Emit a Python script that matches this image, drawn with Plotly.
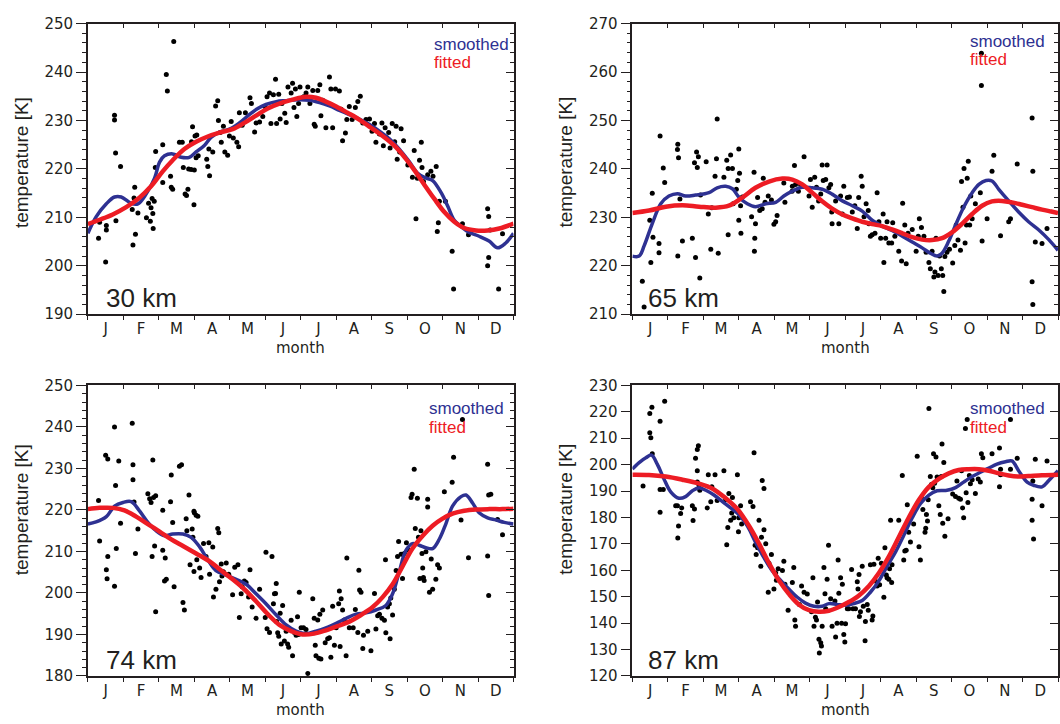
import plotly.graph_objects as go

# ---------------- data ----------------
month_labels = ["J", "F", "M", "A", "M", "J", "J", "A", "S", "O", "N", "D"]
altitudes = ["30 km", "65 km", "74 km", "87 km"]
y_ranges = [[190, 250], [210, 270], [180, 250], [120, 230]]

# 30 km
pts_x_30 = [0.30,0.50,0.52,0.52,0.75,0.75,0.78,0.79,0.92,0.33,
            1.25,1.30,1.32,1.27,1.34,1.41,1.65,1.71,1.76,1.78,1.81,1.83,1.84,1.87,1.90,1.91,
            2.11,2.11,2.21,2.24,2.33,2.35,2.39,2.42,2.58,2.66,2.69,2.74,2.78,2.82,2.84,2.91,2.92,2.95,2.99,3.00,
            3.02,3.05,3.07,3.11,3.35,3.38,3.43,3.41,3.52,3.60,3.66,3.68,3.73,3.76,3.82,3.86,3.94,3.99,
            4.04,4.10,4.20,4.25,4.27,4.35,4.44,4.57,4.61,4.70,4.74,4.84,4.93,4.99,
            5.05,5.12,5.16,5.23,5.29,5.32,5.38,5.42,5.47,5.55,5.59,5.64,5.73,5.77,5.81,5.85,5.89,5.94,5.98,
            6.08,6.15,6.20,6.26,6.34,6.38,6.41,6.48,6.54,6.57,6.62,6.71,6.81,6.85,6.90,6.98,
            7.09,7.14,7.18,7.26,7.30,7.37,7.45,7.54,7.61,7.68,7.75,7.84,7.94,
            8.01,8.08,8.12,8.22,8.29,8.33,8.38,8.42,8.48,8.52,8.58,8.65,8.69,8.72,8.79,8.83,8.90,
            9.02,9.15,9.20,9.25,9.29,9.35,9.40,9.42,9.46,9.58,9.67,9.73,9.82,9.85,9.88,9.91,
            10.08,10.27,10.31,10.56,10.73,
            11.27,11.30,11.30,11.27,11.58,11.69,11.34]
pts_y_30 = [205.7,200.8,208.3,207.4,231.1,230.1,223.3,209.3,220.5,209.0,
            211.6,214.0,216.2,204.3,206.5,210.9,209.9,212.9,209.2,212.0,213.9,210.8,207.7,213.3,220.3,223.6,
            225.0,217.2,239.5,236.1,218.5,216.2,215.8,246.3,225.5,225.5,220.3,214.8,214.5,215.8,220.0,219.9,225.6,228.7,212.6,219.8,
            226.8,222.3,227.0,222.7,222.0,220.5,218.6,224.1,223.5,233.0,234.1,230.0,227.5,225.5,228.8,223.5,222.8,226.8,
            229.8,226.4,225.5,224.6,231.6,229.0,231.6,234.7,233.5,227.6,229.5,229.7,230.8,232.9,
            234.9,235.7,229.4,235.3,238.5,229.4,235.4,230.3,233.5,231.5,229.6,236.9,235.7,237.7,232.7,236.5,230.8,233.5,236.9,
            234.9,235.7,236.9,233.5,236.2,229.2,228.8,236.2,237.4,231.0,234.2,228.5,239.0,236.5,228.5,236.5,
            236.1,232.3,225.8,227.4,230.2,232.9,230.2,232.7,233.9,235.0,229.5,230.2,230.3,
            227.8,229.4,225.5,227.2,229.5,224.8,228.5,226.5,227.5,224.3,229.4,225.6,228.8,222.0,223.5,228.3,225.8,
            220.8,218.3,223.8,209.7,218.1,221.8,225.5,220.3,217.4,218.8,219.5,218.5,220.5,207.1,208.9,213.3,
            213.3,203.0,195.2,208.7,206.4,
            211.8,210.2,201.7,200.0,195.2,206.6,207.4]
smooth_x_30 = [0,0.23,0.52,0.75,0.94,1.22,1.41,1.64,1.88,2.02,2.16,2.39,2.63,2.86,3.05,3.29,3.47,3.71,3.99,
               4.27,4.55,4.79,5.02,5.31,5.59,5.92,6.24,6.53,6.81,7.09,7.37,7.65,7.93,8.22,8.50,8.78,9.06,
               9.30,9.54,9.72,9.96,10.14,10.33,10.52,10.75,11.03,11.31,11.55,11.78,12.0]
smooth_y_30 = [206.7,210.1,212.8,214.2,214.2,212.9,212.8,214.8,218.1,221.4,222.7,223.1,222.4,222.4,223.5,224.9,226.5,227.6,228.2,
               229.5,231.2,232.5,233.3,233.9,234.1,234.3,234.2,233.7,233.0,232.1,231.2,230.3,229.2,227.8,226.2,224.1,221.5,
               219.1,218.1,217.6,215.1,212.4,209.4,208.1,206.9,206.1,205.1,203.7,204.7,206.7]
fit_x_30 = [0,0.33,0.70,1.08,1.46,1.78,2.11,2.39,2.72,3.05,3.38,3.71,4.08,4.41,4.74,5.07,5.40,5.77,6.15,6.43,
            6.71,7.00,7.32,7.65,7.98,8.31,8.64,8.92,9.20,9.48,9.77,10.05,10.33,10.61,10.94,11.27,11.60,12.0]
fit_y_30 = [208.6,209.5,210.6,212.1,214.1,216.4,219.5,221.8,224.1,225.6,226.7,227.5,228.2,229.5,231.0,232.5,233.5,234.3,234.9,234.7,
            233.9,232.9,231.6,230.2,228.5,226.8,224.8,222.5,219.8,216.8,213.8,211.1,209.1,207.8,207.3,207.3,207.7,208.7]

# 65 km
pts_x_65 = [0.28,0.33,0.49,0.52,0.56,0.58,0.75,0.75,0.78,0.87,0.91,
            1.27,1.28,1.30,1.28,1.34,1.41,1.69,1.75,1.78,1.81,1.83,1.86,1.90,1.92,
            2.08,2.14,2.21,2.24,2.33,2.37,2.39,2.42,2.58,2.66,2.70,2.70,2.77,2.82,2.84,2.93,2.97,3.00,
            3.00,3.02,3.06,3.05,3.10,3.36,3.43,3.44,3.45,3.47,3.53,3.59,3.66,3.69,3.74,3.83,3.92,3.99,4.04,4.08,
            4.27,4.30,4.50,4.51,4.57,4.60,4.68,4.74,4.84,4.98,
            5.02,5.07,5.14,5.19,5.25,5.31,5.35,5.38,5.45,5.49,5.54,5.59,5.62,5.63,5.73,5.82,5.87,5.92,5.96,
            6.06,6.12,6.20,6.27,6.34,6.38,6.45,6.48,6.53,6.59,6.65,6.67,6.71,6.76,6.84,6.90,6.95,
            7.00,7.07,7.09,7.14,7.18,7.23,7.31,7.34,7.40,7.51,7.59,7.62,7.68,7.72,7.77,7.89,
            8.00,8.06,8.09,8.15,8.22,8.28,8.36,8.40,8.45,8.50,8.53,8.56,8.62,8.66,8.71,8.75,8.78,8.81,8.87,8.94,
            9.03,9.09,9.13,9.18,9.25,9.28,9.32,9.35,9.38,9.42,9.44,9.47,9.51,9.54,9.58,9.67,9.81,9.84,9.84,9.86,10.00,
            10.14,10.19,10.38,10.61,10.66,10.85,
            11.27,11.29,11.27,11.29,11.36,11.55,11.69]
pts_y_65 = [216.8,211.5,229.4,220.7,235.0,225.9,224.6,222.7,246.8,240.2,237.2,
            244.0,245.1,242.3,222.0,233.8,225.1,225.7,241.3,221.7,243.5,240.3,242.5,217.5,234.6,
            241.5,230.7,223.4,232.0,238.5,242.1,250.3,222.6,238.3,241.8,226.4,240.1,242.9,240.1,232.8,235.8,237.6,244.1,
            229.4,239.1,226.7,232.4,234.2,230.1,239.3,223.0,225.7,228.7,234.1,231.4,231.8,238.1,233.1,234.4,233.6,228.6,229.1,230.4,
            237.1,233.1,235.4,236.4,240.7,236.8,235.4,236.8,242.5,234.4,
            237.8,232.1,238.3,236.2,233.4,234.8,240.8,237.6,237.8,240.8,236.1,236.8,231.1,228.7,233.4,228.7,234.4,230.7,236.4,
            234.1,234.2,231.1,232.4,227.7,234.1,238.5,236.4,230.1,232.8,231.4,228.7,226.1,226.4,226.7,235.1,229.1,
            225.7,230.7,220.7,225.7,229.1,224.7,224.7,228.9,226.1,223.0,221.0,232.9,228.4,220.4,226.7,227.5,
            223.0,226.1,229.7,227.9,226.1,222.8,220.7,219.4,223.0,217.7,218.7,225.7,218.0,222.0,219.4,218.0,214.7,221.9,222.8,223.4,
            220.6,224.2,228.4,225.3,223.2,237.4,232.1,240.1,224.7,228.4,238.1,241.6,228.4,234.4,229.7,232.8,235.1,257.2,263.9,225.1,229.7,
            239.5,242.8,226.2,229.1,229.7,241.0,
            250.5,239.5,216.7,212.0,224.9,224.6,227.7]
smooth_x_65 = [0,0.19,0.33,0.56,0.80,1.03,1.27,1.50,1.78,2.16,2.39,2.63,2.82,3.00,3.24,3.47,3.76,4.04,4.27,4.51,
               4.79,5.07,5.35,5.63,5.92,6.20,6.48,6.76,7.04,7.32,7.61,7.89,8.17,8.40,8.59,8.73,8.92,9.11,9.34,
               9.58,9.77,9.97,10.14,10.33,10.61,10.89,11.17,11.46,11.74,12.0]
smooth_y_65 = [222.0,222.0,224.1,228.7,232.8,234.4,234.9,234.4,234.6,235.1,236.1,236.4,235.9,234.2,232.8,232.2,232.8,233.1,234.4,235.4,
               236.2,236.1,235.8,234.8,233.4,232.4,231.3,229.4,228.2,227.3,226.1,224.9,223.7,222.6,222.0,222.6,225.1,228.4,232.1,
               235.1,236.8,237.6,237.5,235.8,233.4,231.1,229.1,227.4,225.4,223.2]
fit_x_65 = [0,0.47,0.94,1.41,1.88,2.35,2.72,3.10,3.47,3.85,4.23,4.51,4.79,5.07,5.35,5.63,5.92,6.20,6.48,6.76,
            7.04,7.32,7.61,7.89,8.17,8.45,8.73,9.01,9.30,9.58,9.86,10.14,10.42,10.70,10.99,11.27,11.55,11.81,12.0]
fit_y_65 = [230.9,231.4,232.2,232.5,232.2,232.0,232.4,234.1,236.1,237.4,238.0,237.8,236.8,235.1,233.3,231.8,230.6,229.8,229.1,228.6,
            228.2,227.5,226.7,225.9,225.4,225.3,225.7,226.9,228.7,230.7,232.4,233.3,233.4,233.1,232.6,232.1,231.6,231.2,230.9]

# 74 km
pts_x_74 = [0.30,0.33,0.50,0.54,0.52,0.56,0.56,0.75,0.75,0.78,0.80,0.87,0.92,
            1.25,1.27,1.27,1.30,1.34,1.41,1.69,1.74,1.78,1.81,1.83,1.85,1.88,1.91,1.91,
            2.11,2.11,2.16,2.18,2.21,2.33,2.35,2.39,2.43,2.58,2.64,2.68,2.72,2.77,2.79,2.85,2.88,2.94,2.96,2.99,2.99,
            3.00,3.05,3.07,3.10,3.15,3.19,3.26,3.33,3.41,3.43,3.52,3.54,3.60,3.61,3.66,3.69,3.71,3.76,3.78,3.82,3.90,3.97,
            4.08,4.14,4.23,4.27,4.32,4.35,4.41,4.46,4.53,4.57,4.63,4.74,4.84,5.00,
            5.02,5.05,5.12,5.19,5.23,5.26,5.31,5.29,5.32,5.35,5.38,5.42,5.45,5.49,5.54,5.59,5.63,5.66,5.73,5.77,5.82,5.87,5.91,5.94,5.96,6.01,
            6.08,6.15,6.20,6.34,6.38,6.41,6.43,6.48,6.51,6.54,6.57,6.62,6.69,6.76,6.81,6.85,6.90,6.95,7.00,
            7.07,7.09,7.11,7.14,7.18,7.23,7.28,7.30,7.37,7.48,7.54,7.61,7.64,7.66,7.70,7.75,7.77,7.89,7.98,
            8.08,8.12,8.17,8.22,8.29,8.36,8.39,8.40,8.45,8.50,8.52,8.54,8.59,8.64,8.69,8.73,8.76,8.83,8.87,8.92,8.98,
            9.04,9.11,9.14,9.20,9.23,9.29,9.32,9.36,9.39,9.42,9.44,9.46,9.48,9.53,9.58,9.58,9.63,9.68,9.72,9.81,9.86,9.91,
            10.05,10.27,10.31,10.52,10.56,10.73,
            11.27,11.27,11.30,11.30,11.36,11.55,11.69]
pts_y_74 = [222.3,212.5,233.2,203.4,205.6,208.8,232.3,240.0,201.6,225.9,210.7,231.8,216.8,
            240.9,230.9,227.3,221.9,209.5,215.4,223.9,222.7,221.8,208.8,232.0,223.0,211.3,223.4,195.5,
            219.9,210.3,202.9,208.4,203.3,222.0,228.4,217.0,201.5,230.5,230.9,197.7,195.9,217.9,215.0,223.6,206.8,215.4,213.4,205.2,219.7,
            219.3,218.7,208.0,218.5,206.0,203.7,211.9,208.8,212.1,204.5,211.1,199.0,206.0,200.9,215.5,214.5,202.7,207.0,204.1,205.1,207.2,204.5,
            199.6,206.2,206.8,194.1,199.8,201.5,202.9,202.5,199.0,205.6,196.6,193.9,200.9,194.1,
            209.8,191.4,190.5,208.8,197.4,199.8,202.3,199.9,193.1,190.4,189.6,195.1,187.7,197.0,188.4,190.8,187.7,186.9,193.4,184.9,190.5,189.8,194.3,190.0,200.2,191.6,
            191.6,191.2,180.6,198.6,193.9,187.4,184.9,193.5,184.3,194.9,184.1,195.9,188.0,189.0,189.2,184.5,196.8,187.4,191.6,
            197.4,200.5,187.1,198.6,195.9,193.5,184.9,208.4,191.6,191.6,196.0,190.5,205.5,200.7,200.2,186.6,189.8,190.8,186.1,
            199.9,191.3,194.5,194.9,193.9,193.4,208.0,190.4,196.6,197.4,189.0,198.8,194.7,200.9,205.4,208.8,212.4,209.3,203.5,209.5,212.1,
            210.3,223.0,223.8,229.8,215.5,222.8,213.4,203.5,215.0,209.5,206.0,203.7,203.0,209.9,220.7,222.6,200.2,208.2,200.9,203.3,206.8,206.0,
            224.4,226.7,232.7,217.6,241.8,208.5,
            231.0,208.9,199.4,223.6,223.8,217.7,214.0]
smooth_x_74 = [0,0.23,0.52,0.75,0.99,1.22,1.46,1.69,1.92,2.16,2.39,2.68,2.91,3.15,3.38,3.61,3.90,4.18,4.46,4.74,
               5.02,5.31,5.59,5.87,6.15,6.43,6.71,7.00,7.28,7.56,7.84,8.12,8.40,8.59,8.78,8.97,9.15,9.34,9.53,
               9.72,9.91,10.09,10.28,10.52,10.66,10.85,11.03,11.27,11.50,11.74,12.0]
smooth_y_74 = [216.6,217.1,218.4,220.9,221.8,222.0,219.7,217.0,215.0,213.8,214.2,214.2,213.4,211.1,208.0,205.4,204.3,203.3,202.1,199.8,
               197.4,194.7,192.3,190.8,190.2,190.8,191.6,192.7,193.9,194.9,195.2,195.9,197.0,199.8,205.2,210.3,211.9,211.5,210.9,
               210.7,213.0,216.6,220.9,223.2,223.6,221.6,219.3,218.1,217.6,217.0,216.6]
fit_x_74 = [0,0.33,0.70,1.03,1.36,1.69,2.02,2.35,2.68,3.05,3.43,3.76,4.08,4.41,4.74,5.07,5.40,5.73,6.05,6.38,
            6.71,7.04,7.37,7.70,8.03,8.31,8.59,8.87,9.15,9.44,9.72,10.00,10.28,10.61,10.94,11.31,11.69,12.0]
fit_y_74 = [220.2,220.5,220.5,219.9,218.4,216.6,214.8,212.9,211.3,209.5,207.6,205.4,203.3,200.9,198.0,194.9,192.3,190.8,190.0,190.2,
            191.0,192.0,193.1,194.7,196.6,199.0,202.1,206.4,210.7,213.8,216.2,217.9,219.1,219.8,220.1,220.2,220.2,220.3]

# 87 km
pts_x_87 = [0.30,0.49,0.49,0.52,0.55,0.56,0.78,0.78,0.78,0.87,0.91,
            1.22,1.27,1.30,1.28,1.36,1.39,1.69,1.71,1.75,1.78,1.83,1.86,1.83,1.83,1.88,1.90,
            2.11,2.14,2.21,2.24,2.33,2.39,2.58,2.63,2.66,2.69,2.72,2.77,2.80,2.82,2.86,2.96,2.99,3.00,
            3.05,3.08,3.33,3.40,3.43,3.46,3.49,3.53,3.57,3.62,3.64,3.66,3.71,3.71,3.76,3.83,3.85,3.92,3.99,
            4.04,4.06,4.11,4.23,4.27,4.30,4.39,4.51,4.55,4.58,4.60,4.71,4.77,4.84,4.93,
            5.05,5.09,5.12,5.16,5.19,5.22,5.26,5.27,5.31,5.33,5.35,5.40,5.43,5.45,5.49,5.53,5.59,5.63,5.71,5.73,5.77,5.80,5.82,5.87,5.90,5.92,5.96,5.99,
            6.01,6.06,6.10,6.18,6.22,6.29,6.34,6.36,6.39,6.40,6.43,6.48,6.51,6.56,6.57,6.62,6.65,6.71,6.76,6.78,6.81,6.85,6.90,6.93,6.97,
            7.02,7.09,7.12,7.16,7.18,7.23,7.25,7.28,7.31,7.32,7.51,7.61,7.65,7.68,7.72,7.75,7.79,7.84,7.93,
            8.03,8.08,8.12,8.15,8.19,8.25,8.27,8.29,8.32,8.34,8.36,8.40,8.43,8.47,8.49,8.52,8.56,8.59,8.64,8.68,8.71,8.73,8.75,8.78,8.81,8.90,
            9.03,9.11,9.15,9.20,9.25,9.28,9.31,9.34,9.39,9.41,9.44,9.46,9.50,9.53,9.58,9.67,9.75,9.81,9.84,9.88,
            10.14,10.35,10.35,10.38,10.38,10.66,10.66,10.85,
            11.27,11.27,11.29,11.31,11.36,11.55,11.69]
pts_y_87 = [191.9,219.4,212.1,210.2,221.7,204.1,216.4,182.0,190.6,190.6,224.0,
            184.4,184.4,176.8,172.2,181.5,183.6,184.4,178.9,183.2,202.4,205.7,207.2,197.7,193.4,192.2,190.3,
            183.6,196.2,186.0,191.6,196.2,186.4,197.7,186.7,169.7,176.2,189.1,179.0,181.7,187.6,179.9,196.2,174.6,179.9,
            184.4,177.5,186.0,184.2,204.5,169.5,166.0,168.5,179.0,161.5,172.5,194.0,191.0,175.4,170.1,151.7,162.7,166.0,152.9,
            159.0,156.2,160.6,159.9,163.4,154.7,144.9,155.4,161.1,141.2,138.8,147.1,154.1,151.7,151.0,
            144.3,157.2,138.8,142.2,141.2,148.0,133.9,128.7,132.6,131.4,138.8,161.1,151.1,145.5,156.6,169.5,149.2,138.8,148.4,134.8,140.0,163.9,151.3,157.2,140.0,154.7,135.7,132.9,
            139.8,145.5,145.5,160.3,145.5,145.5,155.7,152.9,158.4,142.5,144.3,161.5,146.4,133.3,140.6,147.1,144.9,162.1,141.2,142.7,162.3,156.0,154.1,164.6,154.5,
            162.7,149.8,168.5,158.2,157.2,156.6,160.6,179.0,155.4,162.1,179.0,195.9,163.9,167.3,167.6,184.8,174.4,170.7,177.5,
            203.2,168.9,163.9,187.3,183.0,174.4,175.9,181.1,178.7,186.7,221.3,195.5,192.5,191.3,204.1,193.0,202.9,195.3,184.4,181.1,195.5,207.8,177.8,200.8,172.9,179.5,
            188.9,187.9,193.8,187.3,186.9,197.7,183.6,179.9,213.7,189.4,217.1,185.7,195.9,192.8,194.3,189.1,194.6,193.4,204.1,202.6,
            204.1,206.3,191.6,196.2,198.3,217.1,198.3,202.4,
            186.9,179.0,193.8,171.9,202.0,184.4,201.4]
smooth_x_87 = [0,0.19,0.38,0.54,0.70,0.89,1.08,1.31,1.50,1.69,1.88,2.07,2.30,2.54,2.77,3.00,3.24,3.47,3.71,3.94,
               4.18,4.41,4.65,4.88,5.12,5.35,5.54,5.77,6.01,6.24,6.48,6.71,6.95,7.18,7.42,7.65,7.89,8.12,8.36,
               8.59,8.87,9.11,9.34,9.58,9.81,10.05,10.28,10.52,10.70,10.89,11.13,11.31,11.55,11.74,12.0]
smooth_y_87 = [198.3,200.8,202.6,203.6,200.2,194.6,189.7,187.3,187.9,190.1,191.3,190.3,188.5,186.0,183.6,181.1,176.8,170.7,164.8,159.9,
               156.2,152.9,149.8,147.6,146.4,146.4,147.4,147.1,146.8,147.4,148.6,151.7,156.0,161.5,167.0,173.2,179.9,185.2,188.5,
               190.1,190.3,191.3,193.4,195.5,197.1,198.7,200.2,201.1,201.4,197.7,193.4,192.2,191.6,194.0,197.7]
fit_x_87 = [0,0.47,0.94,1.41,1.88,2.25,2.63,2.96,3.29,3.57,3.85,4.13,4.41,4.69,4.98,5.26,5.54,5.82,6.10,6.38,
            6.67,6.95,7.23,7.51,7.79,8.08,8.36,8.64,8.92,9.20,9.48,9.77,10.05,10.33,10.61,10.89,11.17,11.55,12.0]
fit_y_87 = [196.2,196.1,195.5,194.3,192.8,191.0,187.3,183.2,176.8,170.1,162.7,156.2,151.1,147.1,144.9,144.3,144.7,146.1,148.0,150.4,
            154.1,159.0,165.2,172.5,179.9,186.7,191.6,194.6,196.7,198.0,198.3,198.3,197.7,196.7,195.9,195.5,195.7,196.0,196.2]

panels = [
    (pts_x_30, pts_y_30, smooth_x_30, smooth_y_30, fit_x_30, fit_y_30),
    (pts_x_65, pts_y_65, smooth_x_65, smooth_y_65, fit_x_65, fit_y_65),
    (pts_x_74, pts_y_74, smooth_x_74, smooth_y_74, fit_x_74, fit_y_74),
    (pts_x_87, pts_y_87, smooth_x_87, smooth_y_87, fit_x_87, fit_y_87),
]

# ---------------- style / layout ----------------
W, H = 1060, 724
BLUE = "#2E3192"
RED = "#ED1C24"
INK = "#231F20"
YTICKFONT = dict(family="DejaVu Sans", size=15, color=INK)
XTICKFONT = dict(family="DejaVu Sans", size=15, color=INK)

# pixel geometry of the plot areas
left_px = [88, 633, 88, 633]
right_px = [514, 1059, 514, 1059]
top_px = [15, 15, 386, 386]
bot_px = [313, 313, 684, 684]
minor_step = [2, 2, 2, None]

def px(x):
    return x / W

def py(y):
    return 1 - y / H

fig = go.Figure()
layout = dict(width=W, height=H, autosize=False,
              margin=dict(l=0, r=0, t=0, b=0),
              paper_bgcolor="white", plot_bgcolor="white",
              showlegend=False, annotations=[])

month_centers = [i + 0.5 for i in range(12)]
month_bounds = list(range(13))

for i, (xs, ys, sx, sy, fx, fy) in enumerate(panels):
    n = i + 1
    xa = "x" if n == 1 else f"x{n}"
    ya = "y" if n == 1 else f"y{n}"
    fig.add_trace(go.Scatter(x=xs, y=ys, mode="markers", xaxis=xa, yaxis=ya,
                             marker=dict(color="black", size=5), hoverinfo="skip"))
    fig.add_trace(go.Scatter(x=sx, y=sy, mode="lines", xaxis=xa, yaxis=ya,
                             line=dict(color=BLUE, width=3.5, shape="spline"), hoverinfo="skip"))
    fig.add_trace(go.Scatter(x=fx, y=fy, mode="lines", xaxis=xa, yaxis=ya,
                             line=dict(color=RED, width=4.5, shape="spline"), hoverinfo="skip"))
    # dummy trace for overlay (top / right) axes
    fig.add_trace(go.Scatter(x=[None], y=[None], xaxis=f"x{n+4}", yaxis=f"y{n+4}",
                             mode="markers", hoverinfo="skip"))

    dom_x = [px(left_px[i]), px(right_px[i])]
    dom_y = [py(bot_px[i]), py(top_px[i])]
    yr = y_ranges[i]
    ms = minor_step[i]

    layout["xaxis" if n == 1 else f"xaxis{n}"] = dict(
        domain=dom_x, range=[0, 12], anchor=ya, fixedrange=True,
        showline=True, linecolor=INK, linewidth=1.5, mirror=True,
        showgrid=False, zeroline=False,
        tickmode="array", tickvals=month_centers, ticktext=month_labels,
        ticks="outside", ticklen=0, tickfont=XTICKFONT,
        minor=dict(tickmode="array", tickvals=month_bounds, ticks="outside",
                   ticklen=4, tickcolor=INK, tickwidth=1.2, showgrid=False),
    )
    ydict = dict(
        domain=dom_y, range=yr, anchor=xa, fixedrange=True,
        showline=True, linecolor=INK, linewidth=1.5, mirror=True,
        showgrid=False, zeroline=False,
        tickmode="linear", tick0=yr[0], dtick=10,
        ticks="outside", ticklen=10, tickcolor=INK, tickwidth=1.2, tickfont=YTICKFONT,
    )
    if ms:
        ydict["minor"] = dict(dtick=ms, ticks="outside", ticklen=4,
                              tickcolor=INK, tickwidth=1.2, showgrid=False)
    layout["yaxis" if n == 1 else f"yaxis{n}"] = ydict

    # top overlay axis: inward ticks at month boundaries
    layout[f"xaxis{n+4}"] = dict(
        overlaying=xa, side="top", anchor=ya, range=[0, 12], fixedrange=True,
        showline=False, showgrid=False, zeroline=False, showticklabels=False,
        tickmode="array", tickvals=month_bounds, ticks="inside", ticklen=4,
        tickcolor=INK, tickwidth=1.2,
    )
    # right overlay axis: inward ticks
    rdict = dict(
        overlaying=ya, side="right", anchor=xa, range=yr, fixedrange=True,
        showline=False, showgrid=False, zeroline=False, showticklabels=False,
        tickmode="linear", tick0=yr[0], dtick=10, ticks="inside", ticklen=8,
        tickcolor=INK, tickwidth=1.2,
    )
    if ms:
        rdict["minor"] = dict(dtick=ms, ticks="inside", ticklen=4,
                              tickcolor=INK, tickwidth=1.2, showgrid=False)
    layout[f"yaxis{n+4}"] = rdict

# text annotations
ytitle_x = [21, 566, 21, 566]
ytitle_y = [157, 157, 513, 513]
km_x = [104, 647, 104, 647]
km_y = [296, 296, 668, 668]
leg_x = [432, 969, 427, 969]
leg_y1 = [36, 33, 410, 410]
leg_y2 = [55, 52, 429, 429]

ann = layout["annotations"]
for i in range(4):
    ann.append(dict(text="temperature [K]", xref="paper", yref="paper",
                    x=px(ytitle_x[i]), y=py(ytitle_y[i]), textangle=-90,
                    showarrow=False, xanchor="center", yanchor="middle",
                    font=dict(family="Liberation Sans", size=19, color=INK)))
    ann.append(dict(text="month", xref="paper", yref="paper",
                    x=px((left_px[i] + right_px[i]) / 2), y=py(bot_px[i] + 35),
                    showarrow=False, xanchor="center", yanchor="middle",
                    font=dict(family="DejaVu Sans", size=15, color=INK)))
    ann.append(dict(text=altitudes[i], xref="paper", yref="paper",
                    x=px(km_x[i]), y=py(km_y[i]),
                    showarrow=False, xanchor="left", yanchor="middle",
                    font=dict(family="Liberation Sans", size=26, color=INK)))
    ann.append(dict(text="smoothed", xref="paper", yref="paper",
                    x=px(leg_x[i]), y=py(leg_y1[i]),
                    showarrow=False, xanchor="left", yanchor="middle",
                    font=dict(family="Liberation Sans", size=17, color=BLUE)))
    ann.append(dict(text="fitted", xref="paper", yref="paper",
                    x=px(leg_x[i]), y=py(leg_y2[i]),
                    showarrow=False, xanchor="left", yanchor="middle",
                    font=dict(family="Liberation Sans", size=17, color=RED)))

fig.update_layout(**layout)
fig.write_html("out.html")
